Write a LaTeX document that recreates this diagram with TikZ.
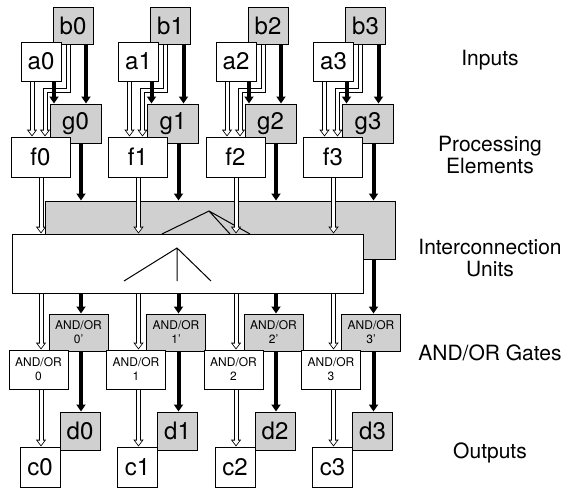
\documentclass[tikz,border=0pt]{standalone}
\usepackage{fontspec}
\setmainfont{TeX Gyre Heros}
\usetikzlibrary{arrows.meta}
\definecolor{FigureGray}{HTML}{D0D0D0}

\tikzset{
  box/.style={draw,line width=1pt,fill=white,inner sep=0pt,font=\fontsize{24}{24}\selectfont},
  shaded/.style={box,fill=FigureGray},
  gate/.style={align=center,font=\fontsize{12}{14}\selectfont},
  heavyarrow/.style={line width=4pt,-{Triangle[length=7pt,width=9pt]}},
  hollowarrow/.style={line width=5pt,-{Triangle[length=7pt,width=10pt]},
    postaction={draw=white,line width=3pt,shorten >=1.4pt,-{Triangle[length=4.4pt,width=6.4pt]}}},
  sidelabel/.style={align=center,font=\fontsize{21}{22}\selectfont}
}

\begin{document}
\begin{tikzpicture}[x=1pt,y=-1pt,line join=miter]
  \useasboundingbox (0,0) rectangle (567,488);
  % four columns of boxes
  \foreach \i in {0,...,3}{
    \pgfmathsetmacro\X{21+97.5*\i}
    \node[shaded,minimum width=40,minimum height=37] (b\i) at (\X+52,25.5) {b\i};
    \node[box,minimum width=40,minimum height=39] (a\i) at (\X+20,61.5) {a\i};
    \node[shaded,minimum width=51,minimum height=39] (g\i) at (\X+54.5,123.5) {g\i};
    \node[box,minimum width=59,minimum height=40] (f\i) at (\X+19.5,157) {f\i};
    \node[shaded,gate,minimum width=59,minimum height=37] (q\i) at (\X+57.5,332.5) {AND/OR\\\i'};
    \node[box,gate,minimum width=59,minimum height=39] (p\i) at (\X+17.5,369.5) {AND/OR\\\i};
    \node[shaded,minimum width=40,minimum height=38] (d\i) at (\X+59,431) {d\i};
    \node[box,minimum width=40,minimum height=40] (c\i) at (\X+19,467) {c\i};
    % arrow lanes
    \coordinate (ah\i) at (\X+11,0); \coordinate (ak\i) at (\X+33,0);
    \coordinate (bh\i) at (\X+47,0); \coordinate (fh\i) at (\X+24,0);
    \coordinate (bk\i) at (\X+65,0);
    \coordinate (h\i) at (\X+20,0); \coordinate (k\i) at (\X+60,0);
  }
  % interconnection units
  \node[shaded,minimum width=350,minimum height=58] (icg) at (220,230) {};
  \draw[line width=1pt] (162,234) -- (209,211) -- (250,234) (209,211) -- (230,234);
  \node[box,minimum width=351,minimum height=59] (icw) at (187.5,263.5) {};
  \draw[line width=1pt] (124,281) -- (177,248) -- (211,281) (177,248) -- (177,281);
  % connections
  \foreach \i in {0,...,3}{
    \draw[hollowarrow] (a\i.south -| ah\i) -- (f\i.north -| ah\i);
    \draw[hollowarrow] (b\i.south -| bh\i) -- ++(0,46) -| (f\i.north -| fh\i);
    \draw[heavyarrow] (a\i.south -| ak\i) -- (g\i.north -| ak\i);
    \draw[heavyarrow] (b\i.south -| bk\i) -- (g\i.north -| bk\i);
    \draw[hollowarrow] (f\i.south -| h\i) -- (icw.north -| h\i);
    \draw[heavyarrow] (g\i.south -| k\i) -- (icg.north -| k\i);
    \draw[hollowarrow] (icw.south -| h\i) -- (p\i.north -| h\i);
    \ifnum\i<3 \def\src{icw}\else\def\src{icg}\fi
    \draw[heavyarrow] (\src.south -| k\i) -- (q\i.north -| k\i);
    \draw[hollowarrow] (p\i.south -| h\i) -- (c\i.north -| h\i);
    \draw[heavyarrow] (q\i.south -| k\i) -- (d\i.north -| k\i);
  }
  % level labels
  \node[sidelabel] (lin) at (490,60) {Inputs};
  \node[sidelabel] (lpe) at (490,155) {Processing\\Elements};
  \node[sidelabel] (liu) at (490,258) {Interconnection\\Units};
  \node[sidelabel] (lgate) at (490,353) {AND/OR Gates};
  \node[sidelabel] (lout) at (490,453) {Outputs};
\end{tikzpicture}
\end{document}
